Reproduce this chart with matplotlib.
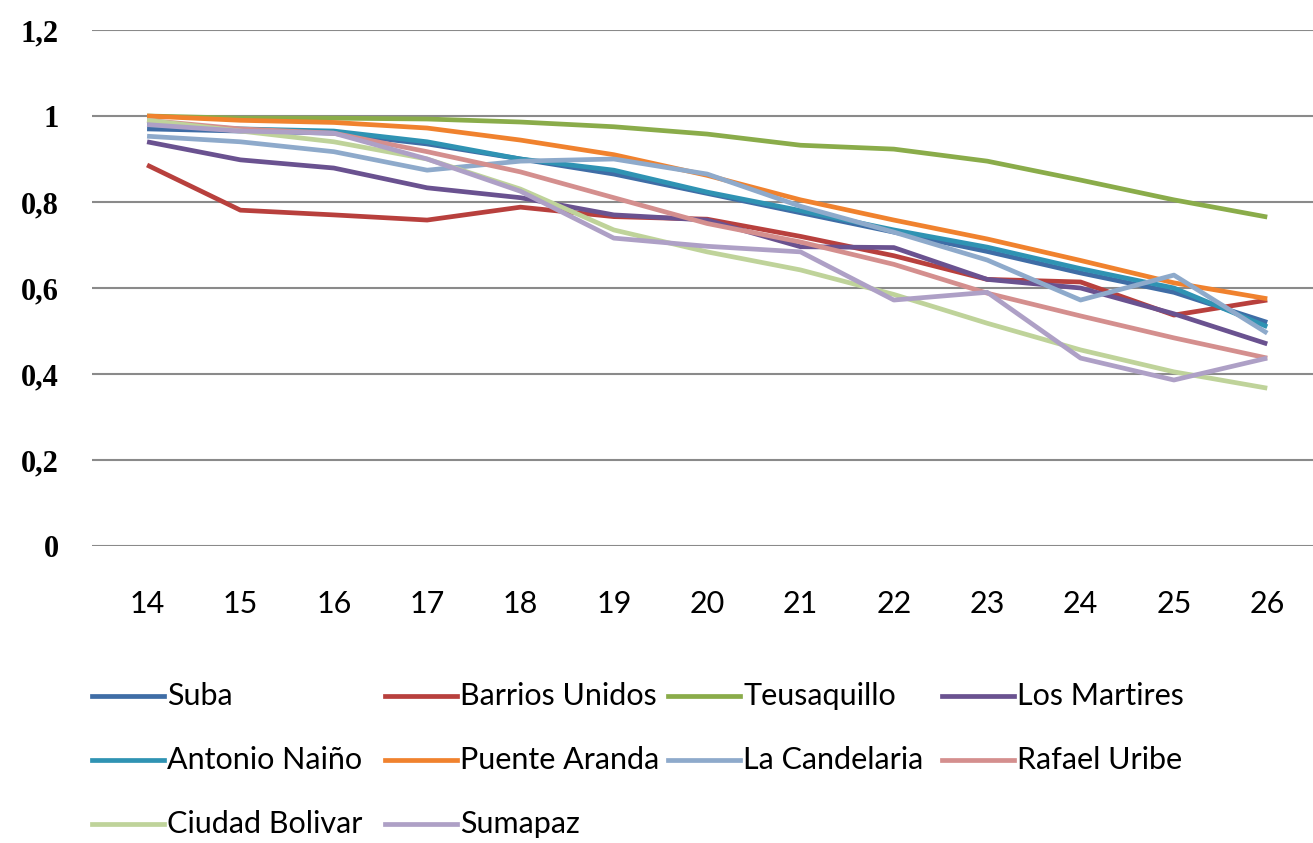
import matplotlib
matplotlib.use("Agg")
import matplotlib.pyplot as plt
from matplotlib.lines import Line2D

# =============================================================================
# Daten
# =============================================================================
edades = [14, 15, 16, 17, 18, 19, 20, 21, 22, 23, 24, 25, 26]

suba = [0.97, 0.965, 0.96, 0.935, 0.90, 0.865, 0.82, 0.775, 0.73, 0.685, 0.635, 0.59, 0.52]
barrios_unidos = [0.886, 0.781, 0.77, 0.758, 0.788, 0.766, 0.76, 0.72, 0.675, 0.62, 0.614, 0.537, 0.572]
teusaquillo = [1.0, 0.995, 0.995, 0.993, 0.986, 0.975, 0.958, 0.932, 0.923, 0.895, 0.851, 0.805, 0.765]
los_martires = [0.94, 0.898, 0.879, 0.833, 0.81, 0.77, 0.758, 0.696, 0.694, 0.62, 0.6, 0.54, 0.47]
antonio_naino = [0.98, 0.97, 0.965, 0.94, 0.90, 0.874, 0.823, 0.78, 0.735, 0.695, 0.645, 0.60, 0.51]
puente_aranda = [1.0, 0.99, 0.985, 0.972, 0.944, 0.91, 0.862, 0.805, 0.758, 0.714, 0.664, 0.612, 0.575]
la_candelaria = [0.953, 0.94, 0.917, 0.874, 0.895, 0.90, 0.865, 0.79, 0.73, 0.665, 0.572, 0.63, 0.495]
rafael_uribe = [0.99, 0.97, 0.96, 0.917, 0.87, 0.81, 0.75, 0.707, 0.655, 0.588, 0.535, 0.484, 0.437]
ciudad_bolivar = [0.99, 0.965, 0.94, 0.90, 0.83, 0.735, 0.684, 0.642, 0.585, 0.518, 0.456, 0.405, 0.367]
sumapaz = [0.98, 0.965, 0.96, 0.90, 0.825, 0.716, 0.697, 0.684, 0.572, 0.59, 0.437, 0.386, 0.437]

nombres = ["Suba", "Barrios Unidos", "Teusaquillo", "Los Martires",
           "Antonio Naiño", "Puente Aranda", "La Candelaria", "Rafael Uribe",
           "Ciudad Bolivar", "Sumapaz"]
series = [suba, barrios_unidos, teusaquillo, los_martires, antonio_naino,
          puente_aranda, la_candelaria, rafael_uribe, ciudad_bolivar, sumapaz]
colores = ["#3f6da6", "#b8403d", "#8aac4a", "#6a5290", "#2f93b3",
           "#f0822e", "#8eaacb", "#d48f8e", "#bfd39a", "#aea0c6"]

y_ticks = [0, 0.2, 0.4, 0.6, 0.8, 1.0, 1.2]
y_labels = ["0", "0,2", "0,4", "0,6", "0,8", "1", "1,2"]

fuente = ["Lato", "DejaVu Sans"]

# =============================================================================
# Grafico
# =============================================================================
fig = plt.figure(figsize=(13.13, 8.43), dpi=100)
ax = fig.add_axes([92 / 1313, (843 - 546) / 843, 1221 / 1313, 516 / 843])

for nombre, valores, color in zip(nombres, series, colores):
    ax.plot(edades, valores, color=color, lw=3.4, label=nombre,
            solid_joinstyle="round", solid_capstyle="butt")

ax.set_xlim(13.41, 26.49)
ax.set_ylim(0, 1.2)
ax.set_yticks(y_ticks)
ax.set_yticklabels(y_labels, family=["Liberation Serif", "DejaVu Serif"],
                   fontweight="bold", fontsize=22)
ax.set_xticks(edades)
ax.set_xticklabels([str(e) for e in edades], family=fuente, fontsize=22)
ax.grid(axis="y", color="#8a8a8a", lw=1.5)
ax.set_axisbelow(True)
for s in ax.spines.values():
    s.set_visible(False)
ax.tick_params(axis="y", length=0, pad=24)
ax.tick_params(axis="x", length=0, pad=32)

# Leyenda (fila por fila, como en Excel)
col_x = [92, 385, 668, 942]
fila_y = [696, 760, 824]
for i, (nombre, color) in enumerate(zip(nombres, colores)):
    x0 = col_x[i % 4] / 1313
    y0 = 1 - fila_y[i // 4] / 843
    fig.add_artist(Line2D([x0, x0 + 72 / 1313], [y0, y0], color=color, lw=3.4,
                          transform=fig.transFigure))
    fig.text(x0 + 75 / 1313, y0, nombre, family=fuente, fontsize=22,
             va="center", ha="left")

fig.savefig("out.png", dpi=100, facecolor="white")
